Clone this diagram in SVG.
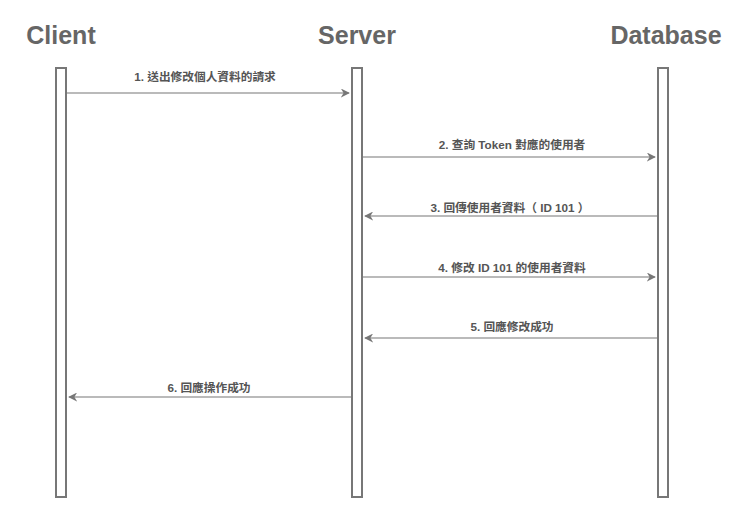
<svg xmlns="http://www.w3.org/2000/svg" width="751" height="519" viewBox="0 0 751 519">
<style>
.hdr{font-family:"Liberation Sans",Arial,sans-serif;font-weight:bold;font-size:25px;fill:#666;text-anchor:middle}
.lbl{font-family:"Liberation Sans","Noto Sans CJK TC",sans-serif;font-weight:bold;font-size:11.7px;fill:#555;text-anchor:middle}
.life{fill:#fff;stroke:#777;stroke-width:2}
.msg{stroke:#777;stroke-width:1.2;fill:none;marker-end:url(#arr)}
</style>
<defs>
<marker id="arr" viewBox="0 0 10 10" refX="9" refY="5" markerWidth="9" markerHeight="9" markerUnits="userSpaceOnUse" orient="auto">
<path d="M0,0 L10,5 L0,10 L3,5 Z" fill="#777"/>
</marker>
</defs>
<rect width="751" height="519" fill="#fff"/>
<g id="client">
<text class="hdr" x="61" y="44">Client</text>
<rect class="life" x="56" y="68" width="10" height="429"/>
</g>
<g id="server">
<text class="hdr" x="357" y="44">Server</text>
<rect class="life" x="352" y="68" width="10" height="429"/>
</g>
<g id="database">
<text class="hdr" x="666" y="44">Database</text>
<rect class="life" x="658" y="68" width="10" height="429"/>
</g>
<g id="connectors">
<line class="msg" x1="66" y1="93" x2="349" y2="93"/>
<text class="lbl" x="205" y="81">1. 送出修改個人資料的請求</text>
<line class="msg" x1="362" y1="157" x2="655" y2="157"/>
<text class="lbl" x="512" y="149">2. 查詢 Token 對應的使用者</text>
<line class="msg" x1="658" y1="216" x2="365" y2="216"/>
<text class="lbl" x="510" y="212">3. 回傳使用者資料（ ID 101 ）</text>
<line class="msg" x1="362" y1="277" x2="655" y2="277"/>
<text class="lbl" x="512" y="272">4. 修改 ID 101 的使用者資料</text>
<line class="msg" x1="658" y1="338" x2="365" y2="338"/>
<text class="lbl" x="512" y="331">5. 回應修改成功</text>
<line class="msg" x1="352" y1="397" x2="69" y2="397"/>
<text class="lbl" x="209" y="392">6. 回應操作成功</text>
</g>
</svg>
